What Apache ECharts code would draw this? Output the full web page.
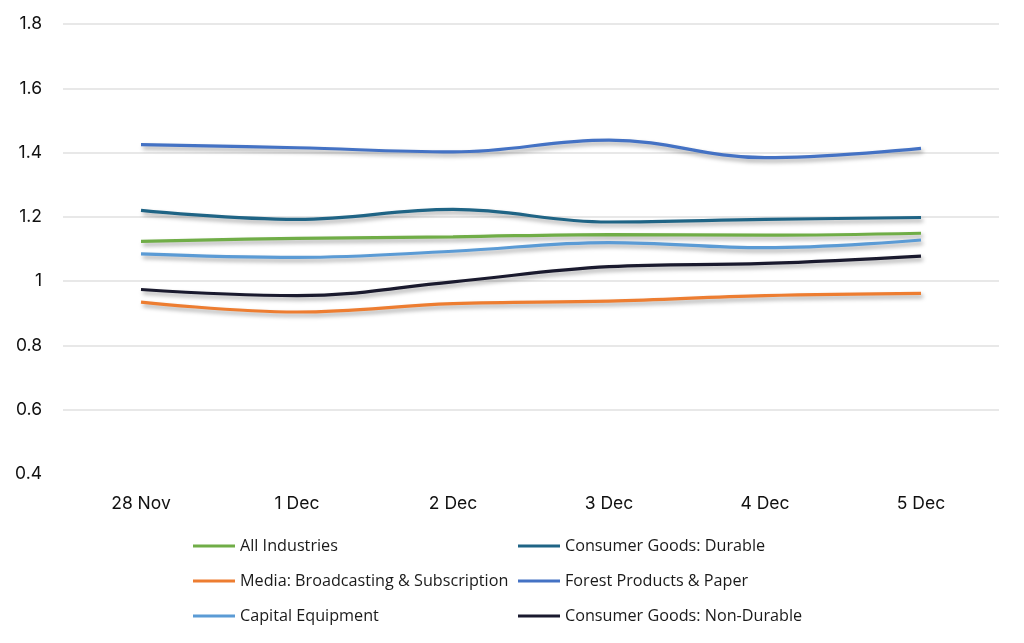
<!DOCTYPE html>
<html>
<head>
<meta charset="utf-8">
<script src="https://cdn.jsdelivr.net/npm/echarts@6/dist/echarts.min.js"></script>
<style>html,body{margin:0;padding:0;background:#fff}#c{width:1024px;height:643px}</style>
</head>
<body>
<div id="c"></div>
<script>
const categories = ['28 Nov', '1 Dec', '2 Dec', '3 Dec', '4 Dec', '5 Dec'];
const allIndustries = [1.124, 1.133, 1.138, 1.145, 1.143, 1.149];
const durable = [1.220, 1.192, 1.223, 1.184, 1.192, 1.198];
const media = [0.935, 0.904, 0.930, 0.938, 0.955, 0.962];
const forest = [1.425, 1.415, 1.402, 1.439, 1.384, 1.413];
const capital = [1.085, 1.074, 1.093, 1.120, 1.104, 1.128];
const nonDurable = [0.974, 0.955, 0.998, 1.045, 1.055, 1.078];
const yTicks = [0.4, 0.6, 0.8, 1.0, 1.2, 1.4, 1.6, 1.8];

const seriesDefs = [
  {name: 'All Industries', data: allIndustries, color: '#70AD47'},
  {name: 'Consumer Goods: Durable', data: durable, color: '#1F6485'},
  {name: 'Media: Broadcasting & Subscription', data: media, color: '#ED7D31'},
  {name: 'Forest Products & Paper', data: forest, color: '#4472C4'},
  {name: 'Capital Equipment', data: capital, color: '#5B9BD5'},
  {name: 'Consumer Goods: Non-Durable', data: nonDurable, color: '#1A1A2E'}
];
const legendPos = [
  [193, 538], [518, 538],
  [193, 573], [518, 573],
  [193, 608], [518, 608]
];

const chart = echarts.init(document.getElementById('c'));
chart.setOption({
  animation: false,
  color: seriesDefs.map(s => s.color),
  grid: {left: 63, right: 25, top: 24, bottom: 169, containLabel: false},
  xAxis: {
    type: 'category',
    data: categories,
    boundaryGap: true,
    axisLine: {show: false},
    axisTick: {show: false},
    axisLabel: {margin: 21, fontSize: 17.5, color: '#111', fontFamily: 'Inter'}
  },
  yAxis: {
    type: 'value',
    min: yTicks[0],
    max: yTicks[yTicks.length - 1],
    interval: 0.2,
    axisLine: {show: false},
    axisTick: {show: false},
    axisLabel: {margin: 21, fontSize: 17.5, color: '#111', fontFamily: 'Inter',
      formatter: v => String(Math.round(v * 10) / 10)},
    splitLine: {show: true, showMinLine: false, lineStyle: {color: '#e8e8e8', width: 2}}
  },
  legend: seriesDefs.map((s, i) => ({
    data: [s.name],
    left: legendPos[i][0],
    top: legendPos[i][1],
    icon: 'rect',
    itemWidth: 42,
    itemHeight: 3,
    itemGap: 0,
    padding: 0,
    selectedMode: false,
    textStyle: {fontSize: 16.2, color: '#1a1a1a', fontFamily: 'Open Sans', padding: [0, 0, 0, 0]}
  })),
  series: seriesDefs.map(s => ({
    name: s.name,
    type: 'line',
    data: s.data,
    smooth: 0.4,
    symbol: 'none',
    lineStyle: {width: 3.2, color: s.color, shadowColor: 'rgba(0,0,0,0.35)', shadowBlur: 4, shadowOffsetX: 2, shadowOffsetY: 3},
    itemStyle: {color: s.color}
  }))
});
</script>
</body>
</html>
